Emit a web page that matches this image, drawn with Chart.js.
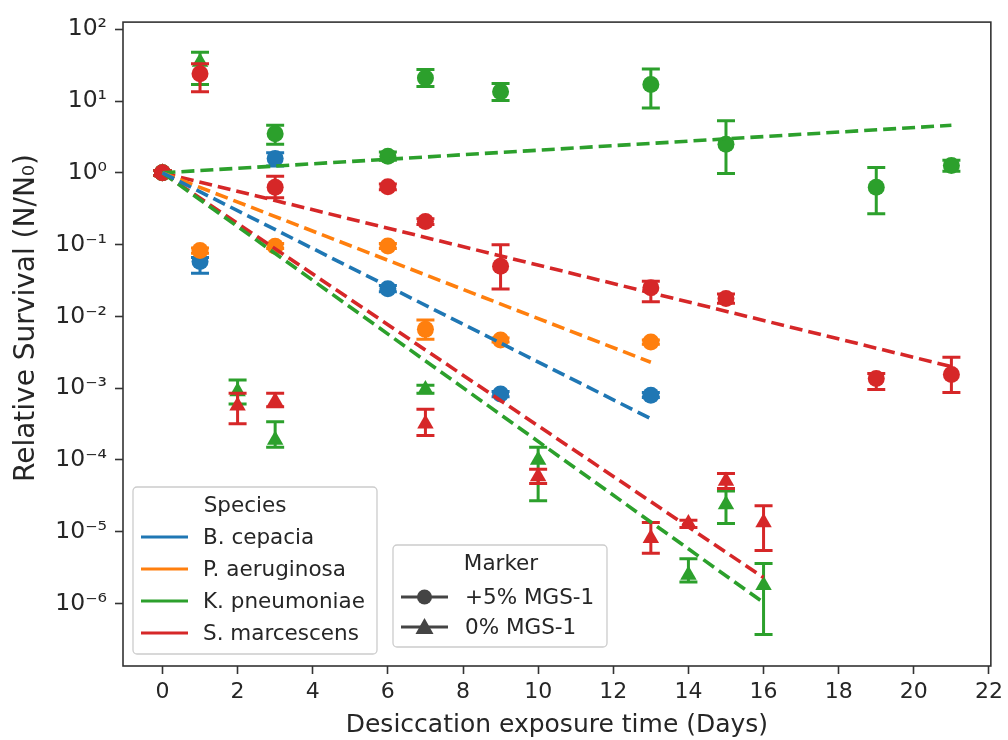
<!DOCTYPE html>
<html>
<head>
<meta charset="utf-8">
<script src="https://cdn.jsdelivr.net/npm/chart.js@4.4.1/dist/chart.umd.min.js"></script>
<style>
  html, body { margin: 0; padding: 0; background: #fff; }
  #wrap { width: 1008px; height: 740px; }
</style>
</head>
<body>
<div id="wrap"><canvas id="chart" width="1008" height="740"></canvas></div>
<script>
// x ticks (days) and y decades
const xTicks = [0, 2, 4, 6, 8, 10, 12, 14, 16, 18, 20, 22];
const yDecades = [-6, -5, -4, -3, -2, -1, 0, 1, 2];

// B. cepacia, +5% MGS-1
const bcDays = [0, 1, 3, 6, 9, 13];
const bcPlus = [1, 0.058, 1.58, 0.0243, 8.3e-4, 8.0e-4];
const bcPlusLo = [0.92, 0.040, 1.25, 0.022, 7.6e-4, 7.4e-4];
const bcPlusHi = [1.08, 0.066, 1.9, 0.027, 9.0e-4, 8.7e-4];

// P. aeruginosa, +5% MGS-1
const paDays = [0, 1, 3, 6, 7, 9, 13];
const paPlus = [1, 0.083, 0.095, 0.096, 0.0066, 0.0047, 0.0044];
const paPlusLo = [0.92, 0.076, 0.088, 0.088, 0.0048, 0.0044, 0.0041];
const paPlusHi = [1.08, 0.09, 0.104, 0.104, 0.0089, 0.0050, 0.0047];

// K. pneumoniae, +5% MGS-1
const kpPlusDays = [0, 3, 6, 7, 9, 13, 15, 19, 21];
const kpPlus = [1, 3.5, 1.7, 21, 13.5, 17, 2.5, 0.63, 1.27];
const kpPlusLo = [0.92, 2.5, 1.5, 16, 10.2, 8, 0.98, 0.27, 1.05];
const kpPlusHi = [1.08, 4.6, 1.95, 27.6, 17.5, 28, 5.3, 1.19, 1.5];

// S. marcescens, +5% MGS-1
const smPlusDays = [0, 1, 3, 6, 7, 9, 13, 15, 19, 21];
const smPlus = [1, 24, 0.63, 0.64, 0.21, 0.05, 0.025, 0.0178, 0.00136, 0.00155];
const smPlusLo = [0.92, 13.5, 0.45, 0.58, 0.19, 0.024, 0.016, 0.0152, 0.00096, 0.00087];
const smPlusHi = [1.08, 33, 0.9, 0.7, 0.23, 0.1, 0.031, 0.0205, 0.0016, 0.0027];

// K. pneumoniae, 0% MGS-1
const kpZeroDays = [0, 1, 2, 3, 7, 10, 14, 15, 16];
const kpZero = [1, 35, 9.0e-4, 1.9e-4, 9.6e-4, 1.0e-4, 2.5e-6, 2.4e-5, 1.8e-6];
const kpZeroLo = [0.92, 17, 6.0e-4, 1.5e-4, 8.5e-4, 2.7e-5, 2.0e-6, 1.3e-5, 3.7e-7];
const kpZeroHi = [1.08, 48, 1.3e-3, 3.4e-4, 1.1e-3, 1.5e-4, 4.2e-6, 3.7e-5, 3.6e-6];

// S. marcescens, 0% MGS-1
const smZeroDays = [0, 2, 3, 7, 10, 13, 14, 15, 16];
const smZero = [1, 5.7e-4, 6.6e-4, 3.2e-4, 5.9e-5, 8.1e-6, 1.3e-5, 5.1e-5, 1.35e-5];
const smZeroLo = [0.92, 3.2e-4, 5.5e-4, 2.2e-4, 4.7e-5, 5.0e-6, 1.15e-5, 4.0e-5, 5.5e-6];
const smZeroHi = [1.08, 8.5e-4, 8.5e-4, 5.1e-4, 7.4e-5, 1.35e-5, 1.45e-5, 6.5e-5, 2.3e-5];

// fitted trend lines (start / end)
const fitShortDays = [0, 13];
const fitLongDays = [0, 21];
const fitZeroDays = [0, 16];
const bcFit = [1, 3.76e-4];
const paFit = [1, 2.3e-3];
const kpPlusFit = [1, 4.6];
const smPlusFit = [1, 2.0e-3];
const kpZeroFit = [1, 1.03e-6];
const smZeroFit = [1, 2.3e-6];

const speciesNames = ['B. cepacia', 'P. aeruginosa', 'K. pneumoniae', 'S. marcescens'];
const markerNames = ['+5% MGS-1', '0% MGS-1'];
const yTitle = 'Relative Survival (N/N\u2080)';

const BLUE = '#1f77b4', ORANGE = '#ff7f0e', GREEN = '#2ca02c', RED = '#d62728';
const speciesColors = [BLUE, ORANGE, GREEN, RED];
const FONT = "'DejaVu Sans', sans-serif";
const INK = '#262626';

const pts = (xs, ys) => xs.map((x, i) => ({ x: x, y: ys[i] }));

function markers(label, days, vals, lo, hi, color, style, order) {
  return {
    type: 'scatter', label: label, data: pts(days, vals), errLo: lo, errHi: hi,
    backgroundColor: color, borderColor: color, borderWidth: 0,
    pointStyle: style, pointRadius: style === 'triangle' ? 9.5 : 8.5,
    showLine: false, order: order
  };
}

function fit(label, days, vals, color) {
  return {
    type: 'line', label: label, data: pts(days, vals), borderColor: color,
    borderWidth: 3.6, borderDash: [13, 6], pointRadius: 0, fill: false,
    tension: 0, order: 0
  };
}

const datasets = [
  markers('bc +5', bcDays, bcPlus, bcPlusLo, bcPlusHi, BLUE, 'circle', 10),
  markers('pa +5', paDays, paPlus, paPlusLo, paPlusHi, ORANGE, 'circle', 9),
  markers('kp +5', kpPlusDays, kpPlus, kpPlusLo, kpPlusHi, GREEN, 'circle', 8),
  markers('kp 0', kpZeroDays, kpZero, kpZeroLo, kpZeroHi, GREEN, 'triangle', 7),
  markers('sm +5', smPlusDays, smPlus, smPlusLo, smPlusHi, RED, 'circle', 6),
  markers('sm 0', smZeroDays, smZero, smZeroLo, smZeroHi, RED, 'triangle', 5),
  fit('bc fit', fitShortDays, bcFit, BLUE),
  fit('pa fit', fitShortDays, paFit, ORANGE),
  fit('kp +5 fit', fitLongDays, kpPlusFit, GREEN),
  fit('sm +5 fit', fitLongDays, smPlusFit, RED),
  fit('kp 0 fit', fitZeroDays, kpZeroFit, GREEN),
  fit('sm 0 fit', fitZeroDays, smZeroFit, RED)
];

const SUP = { '-': '\u207b', '0': '\u2070', '1': '\u00b9', '2': '\u00b2', '3': '\u00b3',
  '4': '\u2074', '5': '\u2075', '6': '\u2076', '7': '\u2077', '8': '\u2078', '9': '\u2079' };
const sup = s => String(s).split('').map(c => SUP[c]).join('');

// vertical error bars with caps, under each dataset's markers
const errorBars = {
  id: 'errorBars',
  beforeDatasetDraw(chart, args) {
    const ds = chart.data.datasets[args.index];
    if (!ds.errLo) return;
    const ctx = chart.ctx, xs = chart.scales.x, ys = chart.scales.y;
    ctx.save();
    ctx.strokeStyle = ds.borderColor;
    ctx.lineWidth = 3;
    ds.data.forEach((p, i) => {
      const px = xs.getPixelForValue(p.x);
      const lo = ys.getPixelForValue(ds.errLo[i]);
      const hi = ys.getPixelForValue(ds.errHi[i]);
      ctx.beginPath();
      ctx.moveTo(px, lo); ctx.lineTo(px, hi);
      ctx.moveTo(px - 9, lo); ctx.lineTo(px + 9, lo);
      ctx.moveTo(px - 9, hi); ctx.lineTo(px + 9, hi);
      ctx.stroke();
    });
    ctx.restore();
  }
};

// axes box + y axis title
const frame = {
  id: 'frame',
  afterDraw(chart) {
    const { left, right, top, bottom } = chart.chartArea;
    const ctx = chart.ctx;
    ctx.save();
    ctx.strokeStyle = '#333';
    ctx.lineWidth = 1.6;
    ctx.strokeRect(left, top, right - left, bottom - top);
    ctx.translate(27, 318);
    ctx.rotate(-Math.PI / 2);
    ctx.font = '28px ' + FONT;
    ctx.fillStyle = INK;
    ctx.textAlign = 'center';
    ctx.textBaseline = 'middle';
    ctx.fillText(yTitle, 0, 0);
    ctx.restore();
  }
};

function legendBox(ctx, x, y, w, h) {
  ctx.save();
  ctx.beginPath();
  ctx.roundRect(x, y, w, h, 4);
  ctx.fillStyle = 'rgba(255,255,255,0.8)';
  ctx.fill();
  ctx.strokeStyle = '#cccccc';
  ctx.lineWidth = 1.3;
  ctx.stroke();
  ctx.restore();
}

const legends = {
  id: 'legends',
  afterDraw(chart) {
    const ctx = chart.ctx;
    ctx.save();
    ctx.font = '21.5px ' + FONT;
    ctx.fillStyle = INK;
    ctx.textBaseline = 'middle';

    // Species legend
    legendBox(ctx, 133, 487, 244, 167);
    ctx.textAlign = 'center';
    ctx.fillText('Species', 245, 506);
    ctx.textAlign = 'left';
    const rows1 = [537, 569, 601, 633];
    speciesNames.forEach((name, i) => {
      ctx.strokeStyle = speciesColors[i];
      ctx.lineWidth = 3;
      ctx.beginPath();
      ctx.moveTo(141, rows1[i]); ctx.lineTo(188, rows1[i]);
      ctx.stroke();
      ctx.fillStyle = INK;
      ctx.fillText(name, 203, rows1[i] + 1);
    });

    // Marker legend
    legendBox(ctx, 393, 545, 214, 102);
    ctx.textAlign = 'center';
    ctx.fillText('Marker', 501, 564);
    ctx.textAlign = 'left';
    const rows2 = [597, 627];
    markerNames.forEach((name, i) => {
      const yy = rows2[i];
      ctx.strokeStyle = '#444';
      ctx.fillStyle = '#444';
      ctx.lineWidth = 3;
      ctx.beginPath();
      ctx.moveTo(401, yy); ctx.lineTo(448, yy);
      ctx.stroke();
      ctx.beginPath();
      if (i === 0) {
        ctx.arc(424.5, yy, 7.5, 0, Math.PI * 2);
      } else {
        ctx.moveTo(424.5, yy - 9);
        ctx.lineTo(433.5, yy + 7);
        ctx.lineTo(415.5, yy + 7);
        ctx.closePath();
      }
      ctx.fill();
      ctx.fillStyle = INK;
      ctx.fillText(name, 465, yy + 1);
    });
    ctx.restore();
  }
};

new Chart(document.getElementById('chart'), {
  type: 'scatter',
  data: { datasets: datasets },
  plugins: [errorBars, frame, legends],
  options: {
    responsive: false,
    animation: false,
    devicePixelRatio: 1,
    layout: { padding: { left: 0, right: 15, top: 15, bottom: 0 } },
    plugins: { legend: { display: false }, tooltip: { enabled: false } },
    scales: {
      x: {
        type: 'linear',
        min: -1.05,
        max: 22.05,
        afterBuildTicks: s => { s.ticks = xTicks.map(v => ({ value: v })); },
        afterFit: s => { s.height = 74; },
        grid: { display: true, drawOnChartArea: false, drawTicks: true, tickLength: 8, tickColor: '#333', tickWidth: 1.6 },
        border: { display: false },
        ticks: { color: INK, font: { family: FONT, size: 22 }, padding: 5, maxRotation: 0, autoSkip: false },
        title: { display: true, text: 'Desiccation exposure time (Days)', color: INK,
                 font: { family: FONT, size: 25 }, padding: { top: 0, bottom: 0 } }
      },
      y: {
        type: 'logarithmic',
        min: Math.pow(10, -6.87),
        max: Math.pow(10, 2.1),
        afterBuildTicks: s => { s.ticks = yDecades.map(e => ({ value: Math.pow(10, e) })); },
        afterFit: s => { s.width = 123; },
        grid: { display: true, drawOnChartArea: false, drawTicks: true, tickLength: 8, tickColor: '#333', tickWidth: 1.6 },
        border: { display: false },
        ticks: {
          color: INK, font: { family: FONT, size: 23.5 }, padding: 8, autoSkip: false,
          callback: v => '10' + sup(Math.round(Math.log10(v)))
        },
        title: { display: false }
      }
    }
  }
});
</script>
</body>
</html>
